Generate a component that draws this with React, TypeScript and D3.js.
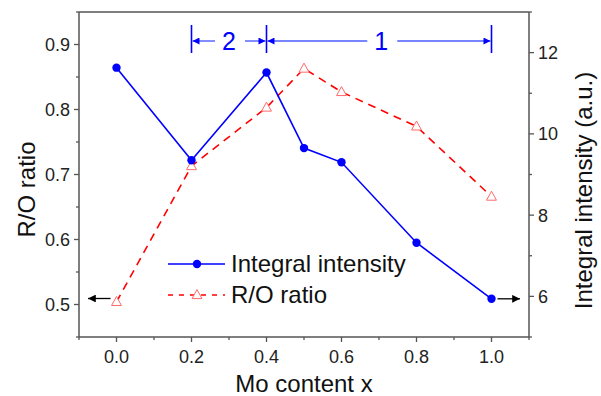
import React from 'react';
import * as d3 from 'd3';

const width = 601;
const height = 396;
const margin = { top: 12, right: 72, bottom: 59, left: 79 };

// values
const moContent = [0, 0.2, 0.4, 0.5, 0.6, 0.8, 1.0];
const intensity = [11.63, 9.35, 11.51, 9.65, 9.3, 7.32, 5.94];
const roRatio = [0.504, 0.713, 0.803, 0.863, 0.827, 0.774, 0.666];

const xTicks = [0, 0.2, 0.4, 0.6, 0.8, 1.0];
const xMinor = [-0.1, 0.1, 0.3, 0.5, 0.7, 0.9, 1.1];
const leftTicks = [0.5, 0.6, 0.7, 0.8, 0.9];
const leftMinor = [0.45, 0.55, 0.65, 0.75, 0.85, 0.95];
const rightTicks = [6, 8, 10, 12];
const rightMinor = [5, 7, 9, 11, 13];

// region boundaries (Mo content) and their labels
const regions = [
  { label: '2', from: 0.2, to: 0.4 },
  { label: '1', from: 0.4, to: 1.0 },
];

const font = '"Liberation Sans", Arial, sans-serif';
const blue = '#0000ff';
const red = '#ff0000';
const axisColor = '#555';

export default function App() {
  const x = d3.scaleLinear().domain([-0.1, 1.1]).range([margin.left, width - margin.right]);
  const yLeft = d3.scaleLinear().domain([0.45, 0.95]).range([height - margin.bottom, margin.top]);
  const yRight = d3.scaleLinear().domain([5, 13]).range([height - margin.bottom, margin.top]);

  const bottom = height - margin.bottom;
  const left = margin.left;
  const right = width - margin.right;

  const intensityLine = d3.line<number>().x((d, i) => x(moContent[i])).y(d => yRight(d));
  const ratioLine = d3.line<number>().x((d, i) => x(moContent[i])).y(d => yLeft(d));

  const tri = (cx: number, cy: number, s: number) =>
    `M${cx},${cy - s * 0.6} L${cx + s * 0.55},${cy + s * 0.4} L${cx - s * 0.55},${cy + s * 0.4} Z`;

  const annY = 41;
  const legX = 168;

  return (
    <svg width={width} height={height} style={{ position: 'absolute', left: 0, top: 0, background: '#fff' }}>
      <defs>
        <marker id="bh" viewBox="0 0 10 10" refX="10" refY="5" markerWidth="7" markerHeight="5" orient="auto">
          <path d="M0,0 L10,5 L0,10 Z" fill={blue} />
        </marker>
        <marker id="kh" viewBox="0 0 10 10" refX="10" refY="5" markerWidth="8" markerHeight="6" orient="auto">
          <path d="M0,0 L10,5 L0,10 Z" fill="#000" />
        </marker>
      </defs>

      {/* frame */}
      <line x1={left} x2={right} y1={margin.top} y2={margin.top} stroke="#000" strokeWidth={1.2} />
      <line x1={left} x2={right} y1={bottom} y2={bottom} stroke={axisColor} strokeWidth={1.5} />
      <line x1={left} x2={left} y1={margin.top} y2={bottom} stroke={axisColor} strokeWidth={1.5} />
      <line x1={right} x2={right} y1={margin.top} y2={bottom} stroke={axisColor} strokeWidth={1.5} />

      {/* bottom axis */}
      {xTicks.map(t => (
        <g key={'x' + t}>
          <line x1={x(t)} x2={x(t)} y1={bottom} y2={bottom + 5} stroke={axisColor} strokeWidth={1.3} />
          <text x={x(t)} y={bottom + 26} textAnchor="middle" fontFamily={font} fontSize={18} fill="#222">
            {t.toFixed(1)}
          </text>
        </g>
      ))}
      {xMinor.map(t => (
        <line key={'xm' + t} x1={x(t)} x2={x(t)} y1={bottom} y2={bottom + 3} stroke={axisColor} strokeWidth={1.3} />
      ))}

      {/* left axis */}
      {leftTicks.map(t => (
        <g key={'l' + t}>
          <line x1={left - 5} x2={left} y1={yLeft(t)} y2={yLeft(t)} stroke={axisColor} strokeWidth={1.3} />
          <text x={left - 9} y={yLeft(t) + 6.5} textAnchor="end" fontFamily={font} fontSize={18} fill="#222">
            {t.toFixed(1)}
          </text>
        </g>
      ))}
      {leftMinor.map(t => (
        <line key={'lm' + t} x1={left - 3} x2={left} y1={yLeft(t)} y2={yLeft(t)} stroke={axisColor} strokeWidth={1.3} />
      ))}

      {/* right axis */}
      {rightTicks.map(t => (
        <g key={'r' + t}>
          <line x1={right} x2={right + 5} y1={yRight(t)} y2={yRight(t)} stroke={axisColor} strokeWidth={1.3} />
          <text x={right + 9} y={yRight(t) + 6.5} textAnchor="start" fontFamily={font} fontSize={18} fill="#222">
            {t}
          </text>
        </g>
      ))}
      {rightMinor.map(t => (
        <line key={'rm' + t} x1={right} x2={right + 3} y1={yRight(t)} y2={yRight(t)} stroke={axisColor} strokeWidth={1.3} />
      ))}

      {/* axis titles */}
      <text transform={`translate(35, ${(margin.top + bottom) / 2 + 15}) rotate(-90)`} textAnchor="middle"
        fontFamily={font} fontSize={24} fill="#111">R/O ratio</text>
      <text transform={`translate(592, ${(margin.top + bottom) / 2 + 16}) rotate(-90)`} textAnchor="middle"
        fontFamily={font} fontSize={24} fill="#111">Integral intensity (a.u.)</text>
      <text x={(left + right) / 2} y={392} textAnchor="middle" fontFamily={font} fontSize={24} fill="#111">
        Mo content x
      </text>

      {/* R/O ratio series */}
      <path d={ratioLine(roRatio) || ''} fill="none" stroke={red} strokeWidth={1.6} strokeDasharray="8,6" />
      {roRatio.map((d, i) => (
        <path key={'t' + i} d={tri(x(moContent[i]), yLeft(d), 9)} fill="#fff" stroke="#ff6a6a" strokeWidth={1} />
      ))}

      {/* Integral intensity series */}
      <path d={intensityLine(intensity) || ''} fill="none" stroke={blue} strokeWidth={1.6} />
      {intensity.map((d, i) => (
        <circle key={'c' + i} cx={x(moContent[i])} cy={yRight(d)} r={4.2} fill={blue} />
      ))}

      {/* axis pointers */}
      <line x1={x(0) - 6} x2={left + 9} y1={yLeft(0.5) - 6} y2={yLeft(0.5) - 6} stroke="#000" strokeWidth={1.3} markerEnd="url(#kh)" />
      <line x1={x(1.0) + 6} x2={right - 9} y1={yRight(5.94)} y2={yRight(5.94)} stroke="#000" strokeWidth={1.3} markerEnd="url(#kh)" />

      {/* region brackets */}
      {[0.2, 0.4, 1.0].map(b => (
        <line key={'b' + b} x1={x(b)} x2={x(b)} y1={annY - 16} y2={annY + 12} stroke={blue} strokeWidth={1.6} />
      ))}
      {regions.map(r => {
        const x0 = x(r.from);
        const x1 = x(r.to);
        const mid = r.label === '2' ? (x0 + x1) / 2 : x0 + (x1 - x0) * 0.51;
        return (
          <g key={'reg' + r.label}>
            <line x1={mid - 14} x2={x0 + 1} y1={annY} y2={annY} stroke="#4d5cff" strokeWidth={1.4} markerEnd="url(#bh)" />
            <line x1={mid + 16} x2={x1 - 1} y1={annY} y2={annY} stroke="#4d5cff" strokeWidth={1.4} markerEnd="url(#bh)" />
            <text x={mid} y={annY + 9} textAnchor="middle" fontFamily={font} fontSize={25} fill={blue}>{r.label}</text>
          </g>
        );
      })}

      {/* legend */}
      <line x1={legX} x2={legX + 57} y1={264} y2={264} stroke={blue} strokeWidth={1.6} />
      <circle cx={legX + 29} cy={264} r={4.2} fill={blue} />
      <text x={legX + 63} y={272} fontFamily={font} fontSize={24} fill="#111">Integral intensity</text>
      <line x1={legX} x2={legX + 57} y1={295} y2={295} stroke={red} strokeWidth={1.6} strokeDasharray="5,6" />
      <path d={tri(legX + 29, 295, 9)} fill="#fff" stroke="#ff6a6a" strokeWidth={1} />
      <text x={legX + 63} y={303} fontFamily={font} fontSize={24} fill="#111">R/O ratio</text>
    </svg>
  );
}
